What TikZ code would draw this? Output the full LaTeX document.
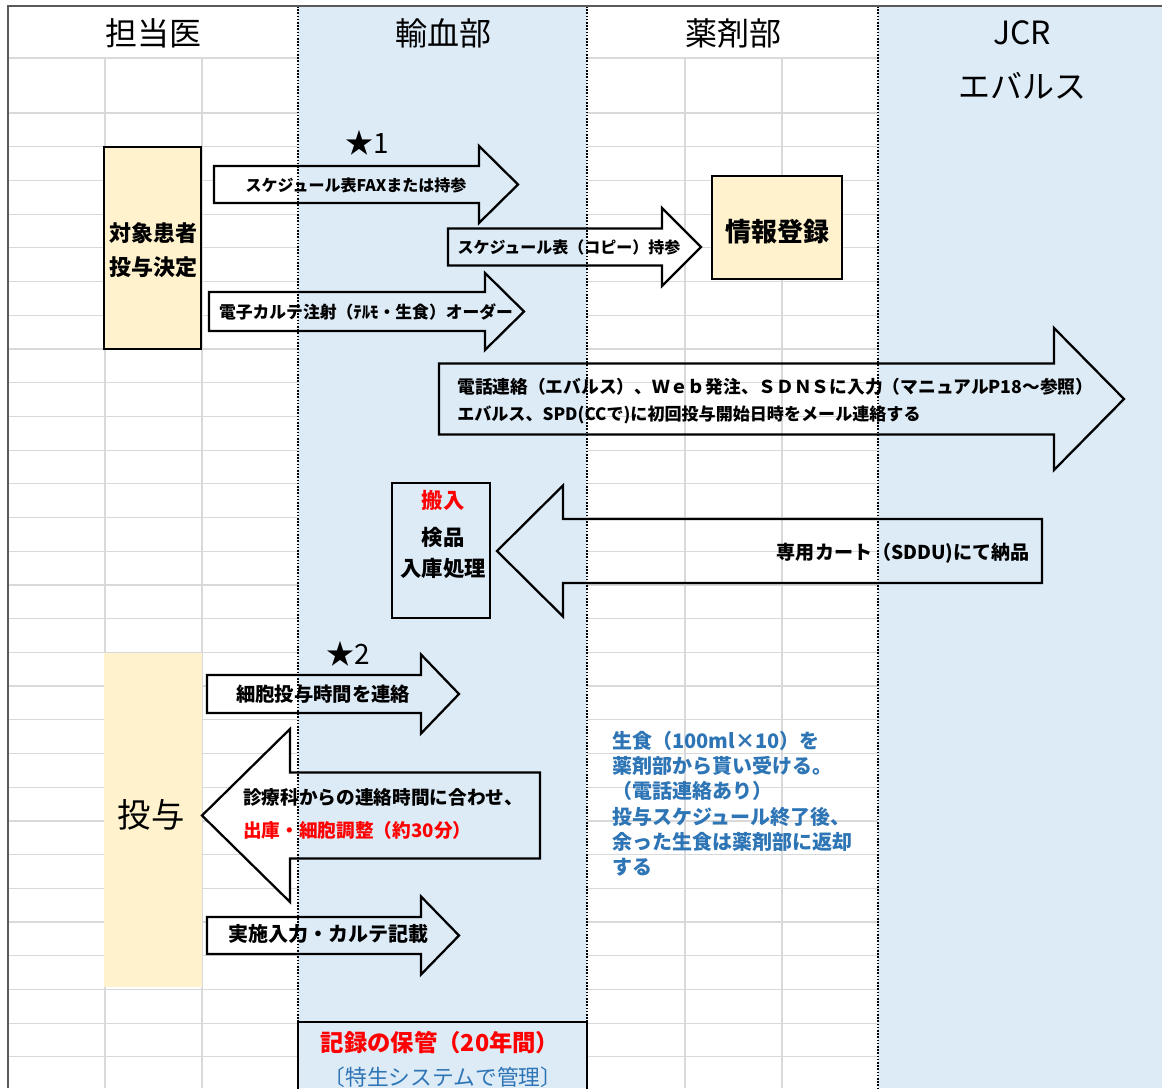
\documentclass[tikz,border=0pt]{standalone}
\usepackage{fontspec}
\setmainfont{Noto Sans CJK JP}
\definecolor{lanebl}{HTML}{DDEBF7}
\definecolor{notey}{HTML}{FFF2CC}
\definecolor{gridg}{HTML}{D9D9D9}
\definecolor{memobl}{HTML}{2E75B6}
\newcommand{\fsz}[1]{\fontsize{#1}{1.2\dimexpr#1pt\relax}\selectfont}
\newcommand{\blockarrow}[7][]{\draw[blockarr,#1] (#2,#5-#6) -- (#3,#5-#6) -- (#3,#5-#7) -- (#4,#5) -- (#3,#5+#7) -- (#3,#5+#6) -- (#2,#5+#6) -- cycle}

\begin{document}
\begin{tikzpicture}[x=0.75pt,y=-0.75pt,
	blockarr/.style={draw=black,line width=1.7pt,fill=white,line join=miter},
	cellbox/.style={draw=black,line width=1.9pt},
	gridln/.style={draw=gridg,line width=0.9pt},
	lanesep/.style={line width=0.8pt,dash pattern=on 1.2pt off 1.2pt},
	lanehead/.style={font=\fsz{24},inner sep=0pt},
	arrtxt/.style={font=\fsz{12}\bfseries,inner sep=0pt},
	bigtxt/.style={font=\fsz{14.5}\bfseries,inner sep=0pt},
	startxt/.style={font=\fsz{21},inner sep=0pt}]
	\useasboundingbox (0,0) rectangle (1162,1088);
	\fill[white] (0,0) rectangle (1162,1088);
	
	\draw[gridln] (8,58) -- (298,58) (587,58) -- (878,58);
	\foreach \k in {0,...,28}
		\draw[gridln] (8,113+33.71*\k) -- (298,113+33.71*\k) (587,113+33.71*\k) -- (878,113+33.71*\k);
	\foreach \gx in {105,202,685,782}
		\draw[gridln] (\gx,58) -- (\gx,1088);
	
	\draw[cellbox,fill=notey] (104,147) rectangle (201,349);
	\draw[cellbox,fill=notey] (712,176) rectangle (842,279);
	\draw[cellbox,fill=white] (392,483) rectangle (490,618);
	\fill[notey] (104,653) rectangle (202,987);
	\draw[cellbox,fill=white] (298,1022) rectangle (587,1100);
	
	\blockarrow{214}{479}{518}{184.5}{18.5}{38.5};
	\blockarrow{448}{662}{701}{247}{18.5}{39};
	\blockarrow{209}{485}{524}{311.5}{19.5}{38.5};
	\blockarrow[fill=none]{439}{1054}{1124}{399}{35.5}{71};
	\blockarrow[fill=none]{1042}{563}{497}{551}{32}{65.5};
	\blockarrow{207}{421}{459}{694}{19}{39.5};
	\blockarrow{540}{290}{202}{815.5}{43}{86.5};
	\blockarrow{207}{421}{459}{935.5}{18.5}{39};
	
	\begin{scope}[blend mode=multiply]
		\fill[lanebl] (298,6) rectangle (587,1088);
		\fill[lanebl] (878,6) rectangle (1162,1088);
	\end{scope}
	
	\node[lanehead] (doctor) at (153,33) {担当医};
	\node[lanehead] (transf) at (443,33) {輸血部};
	\node[lanehead] (pharm) at (733,33) {薬剤部};
	\node[lanehead] (jcr) at (1022,33) {JCR};
	\node[lanehead] (evals) at (1022,86) {エバルス};
	
	\node[startxt] (star1) at (367,143) {★1};
	\node[startxt] (star2) at (348,654) {★2};
	
	\node[font=\fsz{16.5}\bfseries,inner sep=0pt] (decide1) at (153,233) {対象患者};
	\node[font=\fsz{16.5}\bfseries,inner sep=0pt] (decide2) at (153,267) {投与決定};
	\node[font=\fsz{19.5}\bfseries,inner sep=0pt] (regist) at (777,232) {情報登録};
	\node[font=\fsz{16}\bfseries,inner sep=0pt,text=red] (carryin) at (443,500) {搬入};
	\node[font=\fsz{16}\bfseries,inner sep=0pt] (inspect) at (443,537) {検品};
	\node[font=\fsz{16}\bfseries,inner sep=0pt] (stock) at (443,568) {入庫処理};
	\node[font=\fsz{25},inner sep=0pt] (admin) at (151,815) {投与};
	
	\node[arrtxt] (faxtxt) at (356,185) {スケジュール表FAXまたは持参};
	\node[arrtxt] (copytxt) at (569,247) {スケジュール表（コピー）持参};
	\node[arrtxt,font=\fsz{12.6}\bfseries] (ordertxt) at (366,312) {電子カルテ注射（ﾃﾙﾓ・生食）オーダー};
	\node[arrtxt,font=\fsz{13.3}\bfseries,anchor=west] (teltxt) at (457,387) {電話連絡（エバルス）、Ｗｅｂ発注、ＳＤＮＳに入力（マニュアルP18～参照）};
	\node[arrtxt,font=\fsz{12.8}\bfseries,anchor=west] (mailtxt) at (457,415) {エバルス、SPD(CCで)に初回投与開始日時をメール連絡する};
	\node[bigtxt,font=\fsz{14.3}\bfseries,anchor=east] (carttxt) at (1030,553) {専用カート（SDDU)にて納品};
	\node[bigtxt] (timetxt) at (323,694) {細胞投与時間を連絡};
	\node[bigtxt,font=\fsz{14}\bfseries,anchor=west] (prep1) at (243,797) {診療科からの連絡時間に合わせ、};
	\node[bigtxt,font=\fsz{14}\bfseries,anchor=west,text=red] (prep2) at (243,830) {出庫・細胞調整（約30分）};
	\node[bigtxt,font=\fsz{15}\bfseries] (recordtxt) at (328,934) {実施入力・カルテ記載};
	
	\node[font=\fontsize{15}{18.9}\selectfont\bfseries,text=memobl,inner sep=0pt,align=left,anchor=north west] (saline) at (612,731) {生食（100ml×10）を\\薬剤部から貰い受ける。\\（電話連絡あり）\\投与スケジュール終了後、\\余った生食は薬剤部に返却\\する};
	
	\node[font=\fsz{17.5}\bfseries,inner sep=0pt,text=red] (keep) at (440,1043) {記録の保管（20年間）};
	\node[font=\fsz{16.3},inner sep=0pt,text=memobl] (system) at (443,1077) {〔特生システムで管理〕};
	
	\draw[lanesep] (298,6) -- (298,1022) (587,6) -- (587,1022) (878,6) -- (878,1088);
	\draw[line width=1.2pt,draw=black!65] (8,1088) -- (8,6) -- (1162,6);
\end{tikzpicture}
\end{document}
